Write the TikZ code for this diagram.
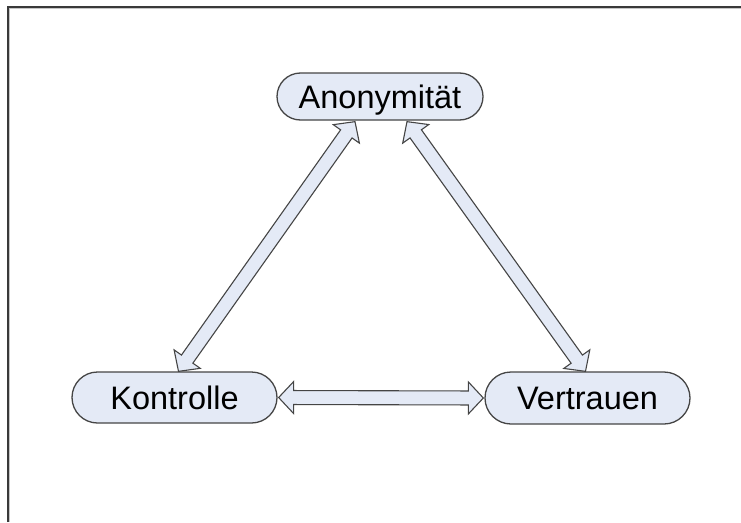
\documentclass[tikz,border=0pt]{standalone}
\usepackage{fontspec}
\setmainfont{Liberation Sans}
\usetikzlibrary{calc,shapes.misc}

\definecolor{pillfill}{HTML}{E4EAF6}
\definecolor{edgegray}{HTML}{454545}
\definecolor{framegray}{HTML}{3A3A3A}

% hollow double-headed block arrow between two named points
\newcommand\blockarrow[2]{%
  \coordinate (ba-h1) at ($(#1)!15pt!(#2)$);
  \coordinate (ba-h2) at ($(#2)!15pt!(#1)$);
  \filldraw[arrowbody] (#1)
    -- ($(ba-h1)!16pt!90:(#2)$) -- ($(ba-h1)!7pt!90:(#2)$)
    -- ($(ba-h2)!7pt!-90:(#1)$) -- ($(ba-h2)!16pt!-90:(#1)$)
    -- (#2)
    -- ($(ba-h2)!16pt!90:(#1)$) -- ($(ba-h2)!7pt!90:(#1)$)
    -- ($(ba-h1)!7pt!-90:(#2)$) -- ($(ba-h1)!16pt!-90:(#2)$)
    -- cycle;
}

\begin{document}
\begin{tikzpicture}[x=1pt,y=-1pt,
  pill/.style={rounded rectangle, draw=edgegray, line width=1.3pt, fill=pillfill,
    inner sep=0pt, font=\fontsize{32.5}{38}\selectfont,
    text height=23pt, text depth=0pt},
  arrowbody/.style={draw=edgegray, line width=1.1pt, fill=pillfill, line join=miter}]
\useasboundingbox (0,0) rectangle (741,522);

% page frame
\draw[framegray, line width=1.6pt] (8,522) -- (8,7) -- (741,7);
\draw[gray!45, line width=1pt] (9.8,522) -- (9.8,8.8) -- (741,8.8);

% the three concepts
\node[pill, minimum width=206pt, minimum height=47pt] (ano) at (380,96.5) {Anonymität};
\node[pill, minimum width=205pt, minimum height=51pt] (kon) at (174.5,397.5) {Kontrolle};
\node[pill, minimum width=205pt, minimum height=52pt] (ver) at (587.5,398) {Vertrauen};

% arrow end points on the node borders
\coordinate (anoL) at ([shift={(-25,1)}]ano.south);
\coordinate (anoR) at ([shift={(27,1)}]ano.south);
\coordinate (konT) at ([shift={(4,0)}]kon.north);
\coordinate (verT) at ([shift={(-2,0)}]ver.north);
\coordinate (konE) at ([shift={(1,0)}]kon.east);
\coordinate (verW) at ([shift={(-1,0)}]ver.west);

\blockarrow{anoL}{konT}
\blockarrow{anoR}{verT}
\blockarrow{konE}{verW}
\end{tikzpicture}
\end{document}
